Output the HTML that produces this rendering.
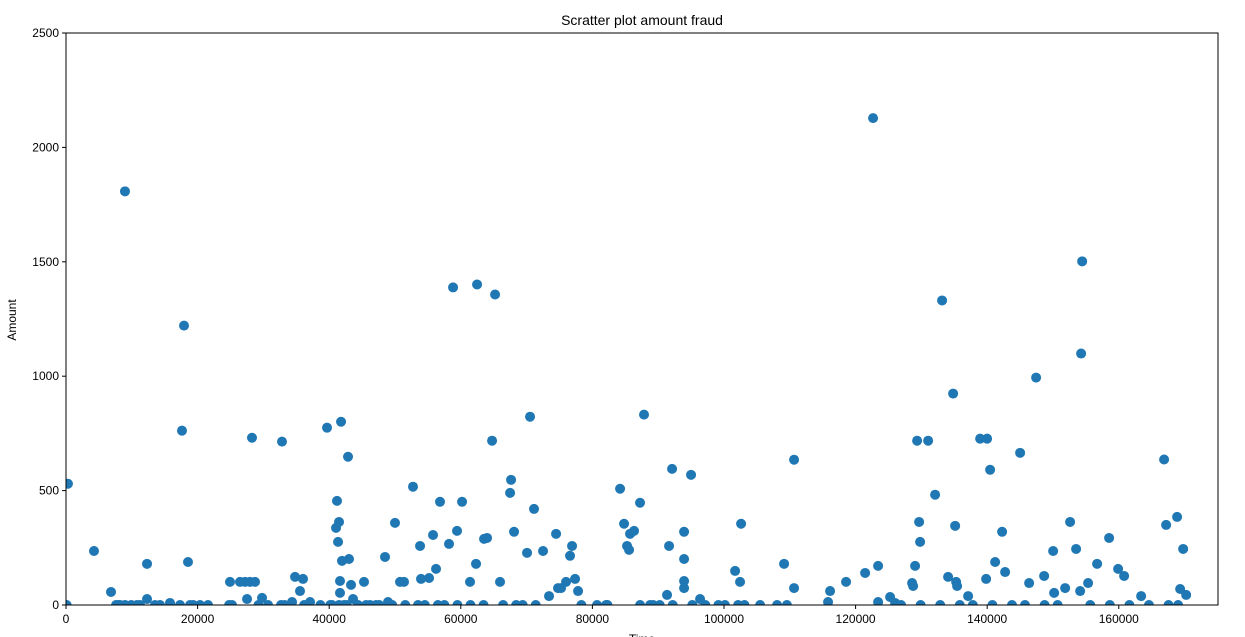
<!DOCTYPE html>
<html><head><meta charset="utf-8"><style>
html,body{margin:0;padding:0;background:#fff;width:1245px;height:637px;overflow:hidden}
svg{display:block;font-family:"Liberation Sans","DejaVu Sans",sans-serif}
</style></head><body>
<svg id="chart" width="1245" height="637" viewBox="0 0 1245 637" xmlns="http://www.w3.org/2000/svg">
<defs><clipPath id="plotclip"><rect x="66" y="33" width="1152" height="572"/></clipPath></defs>
<text x="642" y="25" text-anchor="middle" font-size="14" fill="#000">Scratter plot amount fraud</text>
<text x="16" y="320" text-anchor="middle" font-size="12" transform="rotate(-90 16 320)">Amount</text>
<text x="642" y="643" text-anchor="middle" font-size="12">Time</text>
<g id="points" clip-path="url(#plotclip)"></g>
<g id="axes"></g>
</svg>
<script>
const times = [297,99,4254,6841,7605,8210,8963,8963,10788,11244,12314,12314,13524,14287,15805,17629,17936,18541,17331,18848,20365,21585,
24926,26443,27207,27970,28724,25234,27514,28268,29795,30707,32829,32680,34355,34812,35565,36021,36636,37092,
39670,40433,41038,41187,41346,41494,41643,41643,41802,41494,41950,42258,42863,43011,43319,43626,44380,45292,46204,47116,48484,48940,50001,50765,51370,52738,
53501,53809,53957,55177,55782,56238,56843,58211,58826,59430,60194,61404,62316,62475,63535,63991,64755,65211,65965,67491,67640,68096,70069,70525,71130,
72499,73411,74481,74779,75235,75998,76603,76910,77367,77823,80708,82077,84208,84813,85269,85576,85725,86330,87242,87847,88769,91654,92110,91347,
93935,93935,93935,93935,94996,96364,101688,102144,102442,102600,105486,109134,110651,110651,115817,116124,118554,121449,122659,123422,123422,125246,126010,
128588,128746,129044,129351,129658,129807,131027,132088,133149,134061,134824,135132,135280,135429,137105,138929,139841,139990,140446,141209,142270,142726,
145007,146375,147436,148656,150024,150173,151848,152602,153514,154129,154436,154277,155338,156707,158531,159899,160811,163399,166889,167197,168862,169784,169328,170241,169021,
38670,40156,42635,45609,47592,49575,51558,54533,56516,57507,59490,61473,63456,66431,68414,69405,71388,78329,82295,87252,89235,90227,92210,95184,97167,99150,100142,103116,108074,109561,126912,129887,132861,135836,137819,140793,143768,145751,148725,150708,155666,158640,161615,164589,167564,7932,9915,15864,19334,24788,29249,33215,36190];
const amounts = [530,0,236,57,0,0,0,1808,0,0,26,180,0,0,9,762,1221,188,0,0,0,0,
101,101,101,101,101,0,26,731,31,0,714,0,13,123,61,114,0,13,
775,0,337,455,276,363,105,53,801,0,193,0,648,201,88,26,0,101,0,0,210,13,359,101,101,517,
0,258,114,118,306,158,451,267,1388,324,451,101,180,1401,289,293,718,1357,101,490,547,320,228,823,420,
236,39,311,74,74,101,215,258,114,61,0,0,508,355,258,241,311,324,447,832,0,258,595,44,
320,201,105,74,569,26,149,0,101,355,0,180,635,74,13,61,101,140,2128,13,171,35,9,
96,83,171,718,363,276,718,482,1331,123,924,346,101,83,39,727,114,727,591,188,320,144,
665,96,994,127,236,53,74,363,245,61,1502,1099,96,180,293,158,127,39,636,350,385,245,70,44,0,
0,0,0,0,0,0,0,0,0,0,0,0,0,0,0,0,0,0,0,0,0,0,0,0,0,0,0,0,0,0,0,0,0,0,0,0,0,0,0,0,0,0,0,0,0,0,0,0,0,0,0,0,0];
const xTicks = [0,20000,40000,60000,80000,100000,120000,140000,160000];
const yTicks = [0,500,1000,1500,2000,2500];
const X0=66,X1=1218,Y0=605,Y1=33,XMAX=175080,YMAX=2500;
function xs(v){return X0+v/XMAX*(X1-X0);}
function ys(v){return Y0-v/YMAX*(Y0-Y1);}
const NS="http://www.w3.org/2000/svg";
const pg=document.getElementById('points');
for(let i=0;i<times.length;i++){
  const c=document.createElementNS(NS,'circle');
  c.setAttribute('cx',xs(times[i]));c.setAttribute('cy',ys(amounts[i]));
  c.setAttribute('r',5);c.setAttribute('fill','#1f77b4');
  
  
  pg.appendChild(c);
}
const ax=document.getElementById('axes');
const frame=document.createElementNS(NS,'rect');
frame.setAttribute('x',X0);frame.setAttribute('y',Y1);frame.setAttribute('width',X1-X0);frame.setAttribute('height',Y0-Y1);
frame.setAttribute('fill','none');frame.setAttribute('stroke','#000');frame.setAttribute('stroke-width','1');


ax.appendChild(frame);
xTicks.forEach(t=>{
  const l=document.createElementNS(NS,'line');
  l.setAttribute('x1',xs(t));l.setAttribute('x2',xs(t));l.setAttribute('y1',Y0);l.setAttribute('y2',Y0+4);l.setAttribute('stroke','#000');
  
  
  ax.appendChild(l);
  const tx=document.createElementNS(NS,'text');
  tx.setAttribute('x',xs(t));tx.setAttribute('y',Y0+18);tx.setAttribute('text-anchor','middle');tx.setAttribute('font-size','12');
  tx.textContent=t;
  
  
  ax.appendChild(tx);
});
yTicks.forEach(t=>{
  const l=document.createElementNS(NS,'line');
  l.setAttribute('x1',X0-4);l.setAttribute('x2',X0);l.setAttribute('y1',ys(t));l.setAttribute('y2',ys(t));l.setAttribute('stroke','#000');
  
  
  ax.appendChild(l);
  const tx=document.createElementNS(NS,'text');
  tx.setAttribute('x',X0-7);tx.setAttribute('y',ys(t)+4);tx.setAttribute('text-anchor','end');tx.setAttribute('font-size','12');
  tx.textContent=t;
  
  
  ax.appendChild(tx);
});
</script>
</body></html>
